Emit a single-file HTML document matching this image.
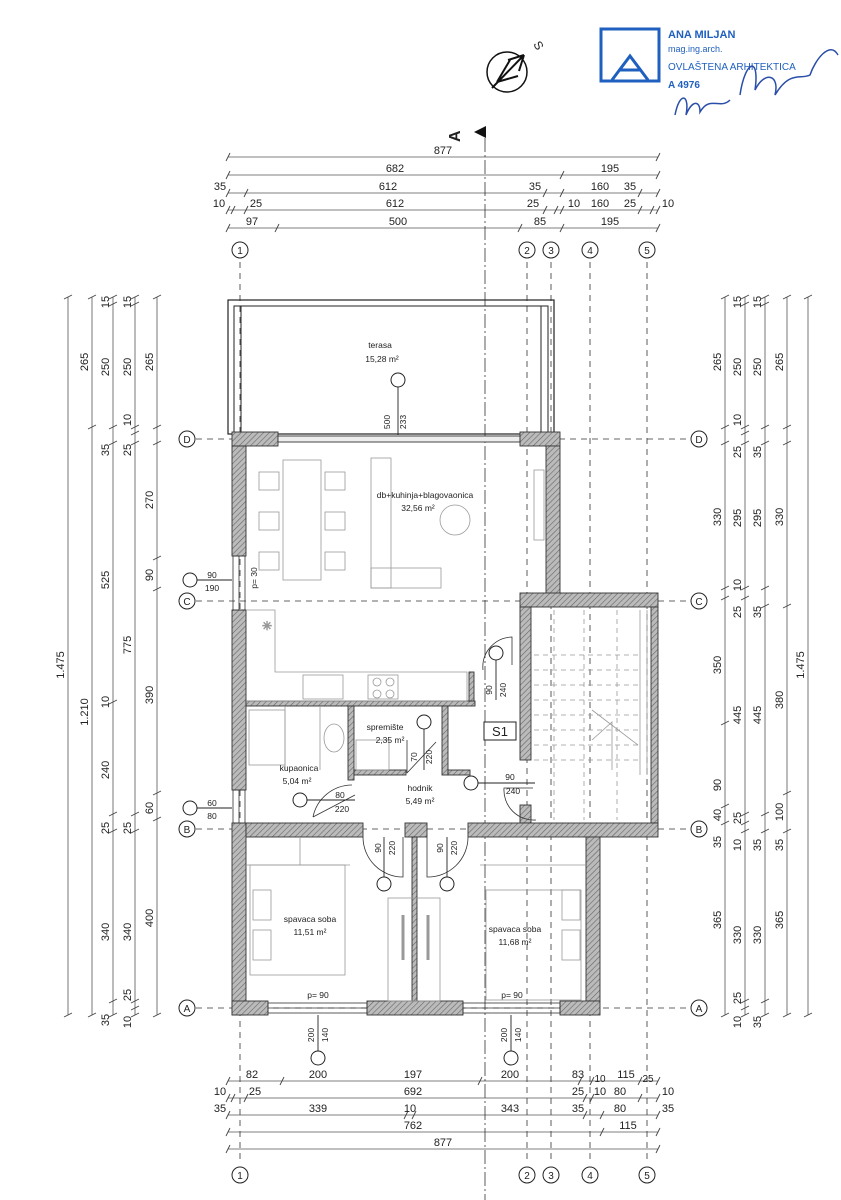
<!DOCTYPE html>
<html><head><meta charset="utf-8"><style>
html,body{margin:0;padding:0;background:#fff}
svg{display:block}
text{font-family:"Liberation Sans",sans-serif;fill:#222}
</style></head><body>
<svg width="841" height="1200" viewBox="0 0 841 1200" xmlns="http://www.w3.org/2000/svg">
<defs>
<pattern id="h" width="4" height="4" patternUnits="userSpaceOnUse" patternTransform="rotate(45)">
<rect width="4" height="4" fill="#bbb"/><line x1="0" y1="0" x2="0" y2="4" stroke="#666" stroke-width="1.2"/></pattern>
</defs>
<g stroke="#555" stroke-width="0.8" fill="none">
<!-- top dim lines -->
<line x1="228" y1="157" x2="658" y2="157"/>
<line x1="228" y1="175" x2="658" y2="175"/>
<line x1="228" y1="193" x2="658" y2="193"/>
<line x1="228" y1="210" x2="658" y2="210"/>
<line x1="228" y1="228" x2="658" y2="228"/>
<!-- bottom -->
<line x1="228" y1="1081" x2="658" y2="1081"/>
<line x1="228" y1="1098" x2="658" y2="1098"/>
<line x1="228" y1="1115" x2="658" y2="1115"/>
<line x1="228" y1="1132" x2="658" y2="1132"/>
<line x1="228" y1="1149" x2="658" y2="1149"/>
<!-- left verticals -->
<line x1="68" y1="297" x2="68" y2="1015"/>
<line x1="92" y1="297" x2="92" y2="1015"/>
<line x1="113" y1="297" x2="113" y2="1015"/>
<line x1="135" y1="297" x2="135" y2="1015"/>
<line x1="157" y1="297" x2="157" y2="1015"/>
<!-- right verticals -->
<line x1="725" y1="297" x2="725" y2="1015"/>
<line x1="745" y1="297" x2="745" y2="1015"/>
<line x1="765" y1="297" x2="765" y2="1015"/>
<line x1="787" y1="297" x2="787" y2="1015"/>
<line x1="808" y1="297" x2="808" y2="1015"/>
</g>
<!-- ticks -->
<g stroke="#444" stroke-width="0.9">
<path d="M226 161l4-8M656 161l4-8 M226 179l4-8M560 179l4-8M656 179l4-8 M226 197l4-8M244 197l4-8M543 197l4-8M560 197l4-8M638 197l4-8M656 197l4-8 M226 214l4-8M231 214l4-8M244 214l4-8M543 214l4-8M554 214l4-8M560 214l4-8M638 214l4-8M650 214l4-8M656 214l4-8 M226 232l4-8M275 232l4-8M518 232l4-8M560 232l4-8M656 232l4-8"/>
<path d="M226 1085l4-8M280 1085l4-8M478 1085l4-8M578 1085l4-8M590 1085l4-8M638 1085l4-8M656 1085l4-8 M226 1102l4-8M231 1102l4-8M244 1102l4-8M583 1102l4-8M590 1102l4-8M638 1102l4-8M656 1102l4-8 M226 1119l4-8M404 1119l4-8M412 1119l4-8M583 1119l4-8M600 1119l4-8M656 1119l4-8 M226 1136l4-8M600 1136l4-8M656 1136l4-8 M226 1153l4-8M656 1153l4-8"/>
<path d="M64 299l8-4M64 1017l8-4 M88 299l8-4M88 429l8-4M88 1017l8-4 M109 299l8-4M109 306l8-4M109 429l8-4M109 445l8-4M109 704l8-4M109 816l8-4M109 833l8-4M109 1003l8-4M109 1017l8-4 M131 299l8-4M131 306l8-4M131 429l8-4M131 435l8-4M131 445l8-4M131 816l8-4M131 833l8-4M131 1003l8-4M131 1010l8-4M131 1017l8-4 M153 299l8-4M153 429l8-4M153 445l8-4M153 560l8-4M153 591l8-4M153 795l8-4M153 821l8-4M153 1017l8-4"/>
<path d="M721 299l8-4M721 429l8-4M721 445l8-4M721 590l8-4M721 600l8-4M721 725l8-4M721 808l8-4M721 825l8-4M721 1017l8-4 M741 299l8-4M741 306l8-4M741 429l8-4M741 435l8-4M741 445l8-4M741 590l8-4M741 600l8-4M741 816l8-4M741 825l8-4M741 833l8-4M741 1003l8-4M741 1010l8-4M741 1017l8-4 M761 299l8-4M761 306l8-4M761 429l8-4M761 445l8-4M761 590l8-4M761 608l8-4M761 816l8-4M761 833l8-4M761 1003l8-4M761 1017l8-4 M783 299l8-4M783 429l8-4M783 445l8-4M783 608l8-4M783 795l8-4M783 833l8-4M783 1017l8-4 M804 299l8-4M804 1017l8-4"/>
</g>
<!-- dim texts top -->
<g font-size="11" text-anchor="middle">
<text x="443" y="154">877</text>
<text x="395" y="172">682</text><text x="610" y="172">195</text>
<text x="220" y="190">35</text><text x="388" y="190">612</text><text x="535" y="190">35</text><text x="600" y="190">160</text><text x="630" y="190">35</text>
<text x="219" y="207">10</text><text x="256" y="207">25</text><text x="395" y="207">612</text><text x="533" y="207">25</text><text x="574" y="207">10</text><text x="600" y="207">160</text><text x="630" y="207">25</text><text x="668" y="207">10</text>
<text x="252" y="225">97</text><text x="398" y="225">500</text><text x="540" y="225">85</text><text x="610" y="225">195</text>
<text x="252" y="1078">82</text><text x="318" y="1078">200</text><text x="413" y="1078">197</text><text x="510" y="1078">200</text><text x="578" y="1078">83</text><text x="600" y="1082" font-size="10">10</text><text x="626" y="1078">115</text><text x="648" y="1082" font-size="10">25</text>
<text x="220" y="1095">10</text><text x="255" y="1095">25</text><text x="413" y="1095">692</text><text x="578" y="1095">25</text><text x="600" y="1095">10</text><text x="620" y="1095">80</text><text x="668" y="1095">10</text>
<text x="220" y="1112">35</text><text x="318" y="1112">339</text><text x="410" y="1112">10</text><text x="510" y="1112">343</text><text x="578" y="1112">35</text><text x="620" y="1112">80</text><text x="668" y="1112">35</text>
<text x="413" y="1129">762</text><text x="628" y="1129">115</text>
<text x="443" y="1146">877</text>
</g>
<!-- left vertical texts -->
<g font-size="11" text-anchor="middle">
<text transform="translate(64,665) rotate(-90)">1.475</text>
<text transform="translate(88,362) rotate(-90)">265</text>
<text transform="translate(88,712) rotate(-90)">1.210</text>
<text transform="translate(109,302) rotate(-90)">15</text>
<text transform="translate(109,367) rotate(-90)">250</text>
<text transform="translate(109,450) rotate(-90)">35</text>
<text transform="translate(109,580) rotate(-90)">525</text>
<text transform="translate(109,702) rotate(-90)">10</text>
<text transform="translate(109,770) rotate(-90)">240</text>
<text transform="translate(109,828) rotate(-90)">25</text>
<text transform="translate(109,932) rotate(-90)">340</text>
<text transform="translate(109,1020) rotate(-90)">35</text>
<text transform="translate(131,302) rotate(-90)">15</text>
<text transform="translate(131,367) rotate(-90)">250</text>
<text transform="translate(131,420) rotate(-90)">10</text>
<text transform="translate(131,450) rotate(-90)">25</text>
<text transform="translate(131,645) rotate(-90)">775</text>
<text transform="translate(131,828) rotate(-90)">25</text>
<text transform="translate(131,932) rotate(-90)">340</text>
<text transform="translate(131,995) rotate(-90)">25</text>
<text transform="translate(131,1022) rotate(-90)">10</text>
<text transform="translate(153,362) rotate(-90)">265</text>
<text transform="translate(153,500) rotate(-90)">270</text>
<text transform="translate(153,575) rotate(-90)">90</text>
<text transform="translate(153,695) rotate(-90)">390</text>
<text transform="translate(153,808) rotate(-90)">60</text>
<text transform="translate(153,918) rotate(-90)">400</text>
</g>
<!-- right vertical texts -->
<g font-size="11" text-anchor="middle">
<text transform="translate(721,362) rotate(-90)">265</text>
<text transform="translate(721,517) rotate(-90)">330</text>
<text transform="translate(721,665) rotate(-90)">350</text>
<text transform="translate(721,785) rotate(-90)">90</text>
<text transform="translate(721,815) rotate(-90)">40</text>
<text transform="translate(721,842) rotate(-90)">35</text>
<text transform="translate(721,920) rotate(-90)">365</text>
<text transform="translate(741,302) rotate(-90)">15</text>
<text transform="translate(741,367) rotate(-90)">250</text>
<text transform="translate(741,420) rotate(-90)">10</text>
<text transform="translate(741,452) rotate(-90)">25</text>
<text transform="translate(741,518) rotate(-90)">295</text>
<text transform="translate(741,585) rotate(-90)">10</text>
<text transform="translate(741,612) rotate(-90)">25</text>
<text transform="translate(741,715) rotate(-90)">445</text>
<text transform="translate(741,818) rotate(-90)">25</text>
<text transform="translate(741,845) rotate(-90)">10</text>
<text transform="translate(741,935) rotate(-90)">330</text>
<text transform="translate(741,998) rotate(-90)">25</text>
<text transform="translate(741,1022) rotate(-90)">10</text>
<text transform="translate(761,302) rotate(-90)">15</text>
<text transform="translate(761,367) rotate(-90)">250</text>
<text transform="translate(761,452) rotate(-90)">35</text>
<text transform="translate(761,518) rotate(-90)">295</text>
<text transform="translate(761,612) rotate(-90)">35</text>
<text transform="translate(761,715) rotate(-90)">445</text>
<text transform="translate(761,845) rotate(-90)">35</text>
<text transform="translate(761,935) rotate(-90)">330</text>
<text transform="translate(761,1022) rotate(-90)">35</text>
<text transform="translate(783,362) rotate(-90)">265</text>
<text transform="translate(783,517) rotate(-90)">330</text>
<text transform="translate(783,700) rotate(-90)">380</text>
<text transform="translate(783,812) rotate(-90)">100</text>
<text transform="translate(783,845) rotate(-90)">35</text>
<text transform="translate(783,920) rotate(-90)">365</text>
<text transform="translate(804,665) rotate(-90)">1.475</text>
</g>
<!-- grid lines -->
<g stroke="#333" stroke-width="0.8" stroke-dasharray="6,5" fill="none">
<line x1="240" y1="262" x2="240" y2="1160"/>
<line x1="527" y1="262" x2="527" y2="1160"/>
<line x1="551" y1="262" x2="551" y2="1160"/>
<line x1="590" y1="262" x2="590" y2="1160"/>
<line x1="647" y1="262" x2="647" y2="1160"/>
<line x1="196" y1="439" x2="690" y2="439"/>
<line x1="196" y1="601" x2="690" y2="601"/>
<line x1="196" y1="829" x2="690" y2="829"/>
<line x1="196" y1="1008" x2="690" y2="1008"/>
</g>
<line x1="485" y1="138" x2="485" y2="1200" stroke="#333" stroke-width="0.8" stroke-dasharray="14,3,2,3"/>
<g fill="#fff" stroke="#222" stroke-width="1">
<circle cx="240" cy="250" r="8"/><circle cx="527" cy="250" r="8"/><circle cx="551" cy="250" r="8"/><circle cx="590" cy="250" r="8"/><circle cx="647" cy="250" r="8"/>
<circle cx="240" cy="1175" r="8"/><circle cx="527" cy="1175" r="8"/><circle cx="551" cy="1175" r="8"/><circle cx="590" cy="1175" r="8"/><circle cx="647" cy="1175" r="8"/>
<circle cx="187" cy="439" r="8"/><circle cx="187" cy="601" r="8"/><circle cx="187" cy="829" r="8"/><circle cx="187" cy="1008" r="8"/>
<circle cx="699" cy="439" r="8"/><circle cx="699" cy="601" r="8"/><circle cx="699" cy="829" r="8"/><circle cx="699" cy="1008" r="8"/>
</g>
<g font-size="10" text-anchor="middle">
<text x="240" y="254">1</text><text x="527" y="254">2</text><text x="551" y="254">3</text><text x="590" y="254">4</text><text x="647" y="254">5</text>
<text x="240" y="1179">1</text><text x="527" y="1179">2</text><text x="551" y="1179">3</text><text x="590" y="1179">4</text><text x="647" y="1179">5</text>
<text x="187" y="443">D</text><text x="187" y="605">C</text><text x="187" y="833">B</text><text x="187" y="1012">A</text>
<text x="699" y="443">D</text><text x="699" y="605">C</text><text x="699" y="833">B</text><text x="699" y="1012">A</text>
</g>
<!-- section mark -->
<text transform="translate(460,142) rotate(-90)" font-size="16" font-weight="bold">A</text>
<polygon points="474,132 486,126 486,138" fill="#111"/>
<!-- north arrow -->
<circle cx="507" cy="72" r="20" fill="none" stroke="#111" stroke-width="1.5"/>
<path d="M492 88 L524 55 M524 55 L508 60 M524 55 L519 71 M497 82 L510 60 M497 82 L518 76" stroke="#111" stroke-width="2" fill="none"/>
<text transform="translate(533,44) rotate(60)" font-size="12">S</text>
<!-- stamp -->
<rect x="601" y="29" width="58" height="52" fill="none" stroke="#1f5fbf" stroke-width="3"/>
<path d="M612 80 L630 56 L648 80 M620 70 L640 70" stroke="#1f5fbf" stroke-width="3" fill="none"/>
<text x="668" y="38" font-size="11" font-weight="bold" style="fill:#1f5fbf">ANA MILJAN</text>
<text x="668" y="52" font-size="9" style="fill:#1f5fbf">mag.ing.arch.</text>
<text x="668" y="70" font-size="10" style="fill:#1f5fbf">OVLAŠTENA ARHITEKTICA</text>
<text x="668" y="88" font-size="10" font-weight="bold" style="fill:#1f5fbf">A 4976</text>
<path d="M675 115 C680 90 690 95 686 115 C692 100 700 100 700 112 C710 95 720 110 730 100 M740 95 C745 60 760 55 755 90 C765 70 780 75 775 95 C790 70 800 80 810 75 C815 60 830 40 838 55" stroke="#2a4fa8" stroke-width="1.5" fill="none"/>
<!-- terrace -->
<rect x="228" y="300" width="326" height="134" fill="none" stroke="#222" stroke-width="1.2"/>
<rect x="234" y="306" width="314" height="128" fill="none" stroke="#222" stroke-width="1"/>
<line x1="241" y1="306" x2="241" y2="432" stroke="#222"/>
<line x1="541" y1="306" x2="541" y2="432" stroke="#222"/>
<!-- walls -->
<g fill="url(#h)" stroke="#333" stroke-width="0.9">
<rect x="232" y="432" width="46" height="14"/>
<rect x="278" y="436" width="242" height="6" fill="#eee"/>
<rect x="520" y="432" width="40" height="14"/>
<rect x="232" y="446" width="14" height="110"/>
<rect x="232" y="610" width="14" height="180"/>
<rect x="232" y="823" width="14" height="192"/>
<rect x="546" y="446" width="14" height="148"/>
<rect x="520" y="593" width="138" height="14"/>
<rect x="520" y="607" width="11" height="153"/>
<rect x="520" y="805" width="11" height="18"/>
<rect x="651" y="607" width="7" height="216"/>
<rect x="246" y="823" width="117" height="14"/>
<rect x="405" y="823" width="22" height="14"/>
<rect x="468" y="823" width="190" height="14"/>
<rect x="412" y="837" width="5" height="166"/>
<rect x="586" y="837" width="14" height="164"/>
<rect x="232" y="1001" width="36" height="14"/>
<rect x="367" y="1001" width="96" height="14"/>
<rect x="560" y="1001" width="40" height="14"/>
<rect x="246" y="701" width="229" height="5"/>
<rect x="469" y="672" width="5" height="29"/>
<rect x="348" y="706" width="6" height="74"/>
<rect x="354" y="770" width="52" height="5"/>
<rect x="442" y="706" width="6" height="69"/>
<rect x="448" y="770" width="22" height="5"/>
</g>
<!-- windows -->
<g stroke="#333" stroke-width="0.8" fill="none">
<rect x="268" y="1003" width="99" height="10"/><line x1="268" y1="1008" x2="367" y2="1008"/>
<rect x="463" y="1003" width="97" height="10"/><line x1="463" y1="1008" x2="560" y2="1008"/>
<rect x="233" y="556" width="12" height="54"/><line x1="239" y1="556" x2="239" y2="610"/>
<rect x="233" y="790" width="12" height="33"/><line x1="239" y1="790" x2="239" y2="823"/>
</g>
<!-- furniture light gray -->
<g stroke="#999" stroke-width="0.8" fill="none">
<rect x="283" y="460" width="38" height="120"/>
<rect x="259" y="472" width="20" height="18"/><rect x="259" y="512" width="20" height="18"/><rect x="259" y="552" width="20" height="18"/>
<rect x="325" y="472" width="20" height="18"/><rect x="325" y="512" width="20" height="18"/><rect x="325" y="552" width="20" height="18"/>
<rect x="371" y="458" width="20" height="130"/><rect x="371" y="568" width="70" height="20"/>
<circle cx="455" cy="520" r="15"/>
<rect x="534" y="470" width="10" height="70"/>
<path d="M246 610 H275 V672 H467 V701 H246"/>
<text x="262" y="630" font-size="12" style="fill:#999">✳</text>
<rect x="303" y="675" width="40" height="24"/><rect x="368" y="675" width="30" height="24"/>
<circle cx="377" cy="682" r="4"/><circle cx="390" cy="682" r="4"/><circle cx="377" cy="694" r="4"/><circle cx="390" cy="694" r="4"/>
<rect x="249" y="710" width="36" height="55"/><line x1="285" y1="706" x2="285" y2="770"/><line x1="320" y1="706" x2="320" y2="770"/>
<ellipse cx="334" cy="738" rx="10" ry="14"/>
<rect x="356" y="740" width="33" height="30"/>
<rect x="250" y="865" width="95" height="110"/><rect x="253" y="890" width="18" height="30"/><rect x="253" y="930" width="18" height="30"/>
<rect x="388" y="898" width="52" height="103"/>
<line x1="403" y1="915" x2="403" y2="960" stroke-width="3"/><line x1="428" y1="915" x2="428" y2="960" stroke-width="3"/>
<rect x="486" y="890" width="95" height="110"/><rect x="562" y="890" width="18" height="30"/><rect x="562" y="930" width="18" height="30"/>
<line x1="300" y1="837" x2="300" y2="865"/><line x1="246" y1="865" x2="350" y2="865"/>
<line x1="480" y1="865" x2="586" y2="865"/>
<!-- stairs -->
<g stroke-dasharray="5,4">
<line x1="534" y1="655" x2="640" y2="655"/><line x1="534" y1="670" x2="640" y2="670"/><line x1="534" y1="685" x2="640" y2="685"/><line x1="534" y1="700" x2="640" y2="700"/><line x1="534" y1="715" x2="640" y2="715"/><line x1="534" y1="730" x2="640" y2="730"/><line x1="534" y1="745" x2="640" y2="745"/><line x1="534" y1="760" x2="640" y2="760"/>
<line x1="554" y1="610" x2="554" y2="820"/><line x1="584" y1="610" x2="584" y2="820"/><line x1="617" y1="610" x2="617" y2="820"/>
</g>
<line x1="640" y1="610" x2="640" y2="775"/><line x1="647" y1="610" x2="647" y2="775"/>
<path d="M592 710 L638 745 M592 740 L612 722 L612 770" />
</g>
<!-- doors -->
<g stroke="#333" stroke-width="0.8" fill="none">
<path d="M512 665 L512 637 A30 30 0 0 0 483 670"/>
<path d="M533 788 L504 788 A30 30 0 0 0 536 820"/>
<path d="M313 817 L355 795 M313 817 A40 40 0 0 1 352 785"/>
<path d="M407 773 L436 742 M407 773 V740"/>
<path d="M363 837 A40 40 0 0 0 403 877 L403 837"/>
<path d="M468 837 A40 40 0 0 1 427 877 L427 837"/>
</g>
<g fill="#fff" stroke="#222" stroke-width="1">
<circle cx="398" cy="380" r="7"/><circle cx="496" cy="653" r="7"/><circle cx="424" cy="722" r="7"/>
<circle cx="300" cy="800" r="7"/><circle cx="471" cy="783" r="7"/><circle cx="384" cy="884" r="7"/><circle cx="447" cy="884" r="7"/>
<circle cx="318" cy="1058" r="7"/><circle cx="511" cy="1058" r="7"/>
<circle cx="190" cy="580" r="7"/><circle cx="190" cy="808" r="7"/>
</g>
<g stroke="#222" stroke-width="0.9">
<line x1="398" y1="387" x2="398" y2="435"/><line x1="496" y1="660" x2="496" y2="700"/><line x1="424" y1="729" x2="424" y2="770"/>
<line x1="307" y1="800" x2="355" y2="800"/><line x1="478" y1="783" x2="535" y2="783"/>
<line x1="384" y1="877" x2="384" y2="837"/><line x1="447" y1="877" x2="447" y2="837"/>
<line x1="318" y1="1051" x2="318" y2="1015"/><line x1="511" y1="1051" x2="511" y2="1015"/>
<line x1="197" y1="580" x2="232" y2="580"/><line x1="197" y1="808" x2="232" y2="808"/>
</g>
<rect x="484" y="722" width="32" height="18" fill="#fff" stroke="#222"/>
<text x="500" y="736" font-size="13" text-anchor="middle">S1</text>
<!-- labels -->
<g font-size="8.5" text-anchor="middle">
<text x="380" y="348">terasa</text><text x="382" y="362">15,28 m²</text>
<text x="425" y="498">db+kuhinja+blagovaonica</text><text x="418" y="511">32,56 m²</text>
<text x="385" y="730">spremište</text><text x="390" y="743">2,35 m²</text>
<text x="299" y="771">kupaonica</text><text x="297" y="784">5,04 m²</text>
<text x="420" y="791">hodnik</text><text x="420" y="804">5,49 m²</text>
<text x="310" y="922">spavaca soba</text><text x="310" y="935">11,51 m²</text>
<text x="515" y="932">spavaca soba</text><text x="515" y="945">11,68 m²</text>
<text x="318" y="998">p=  90</text><text x="512" y="998">p=  90</text>
<text x="212" y="578">90</text><text x="212" y="591">190</text>
<text x="212" y="806">60</text><text x="212" y="819">80</text>
<text x="340" y="798">80</text><text x="342" y="812">220</text>
<text x="510" y="780">90</text><text x="513" y="794">240</text>
</g>
<g font-size="8.5" text-anchor="middle">
<text transform="translate(390,422) rotate(-90)">500</text><text transform="translate(406,422) rotate(-90)">233</text>
<text transform="translate(492,690) rotate(-90)">90</text><text transform="translate(506,690) rotate(-90)">240</text>
<text transform="translate(417,757) rotate(-90)">70</text><text transform="translate(432,757) rotate(-90)">220</text>
<text transform="translate(381,848) rotate(-90)">90</text><text transform="translate(395,848) rotate(-90)">220</text>
<text transform="translate(443,848) rotate(-90)">90</text><text transform="translate(457,848) rotate(-90)">220</text>
<text transform="translate(314,1035) rotate(-90)">200</text><text transform="translate(328,1035) rotate(-90)">140</text>
<text transform="translate(507,1035) rotate(-90)">200</text><text transform="translate(521,1035) rotate(-90)">140</text>
<text transform="translate(257,578) rotate(-90)">p= 30</text>
</g>
</svg>
</body></html>
